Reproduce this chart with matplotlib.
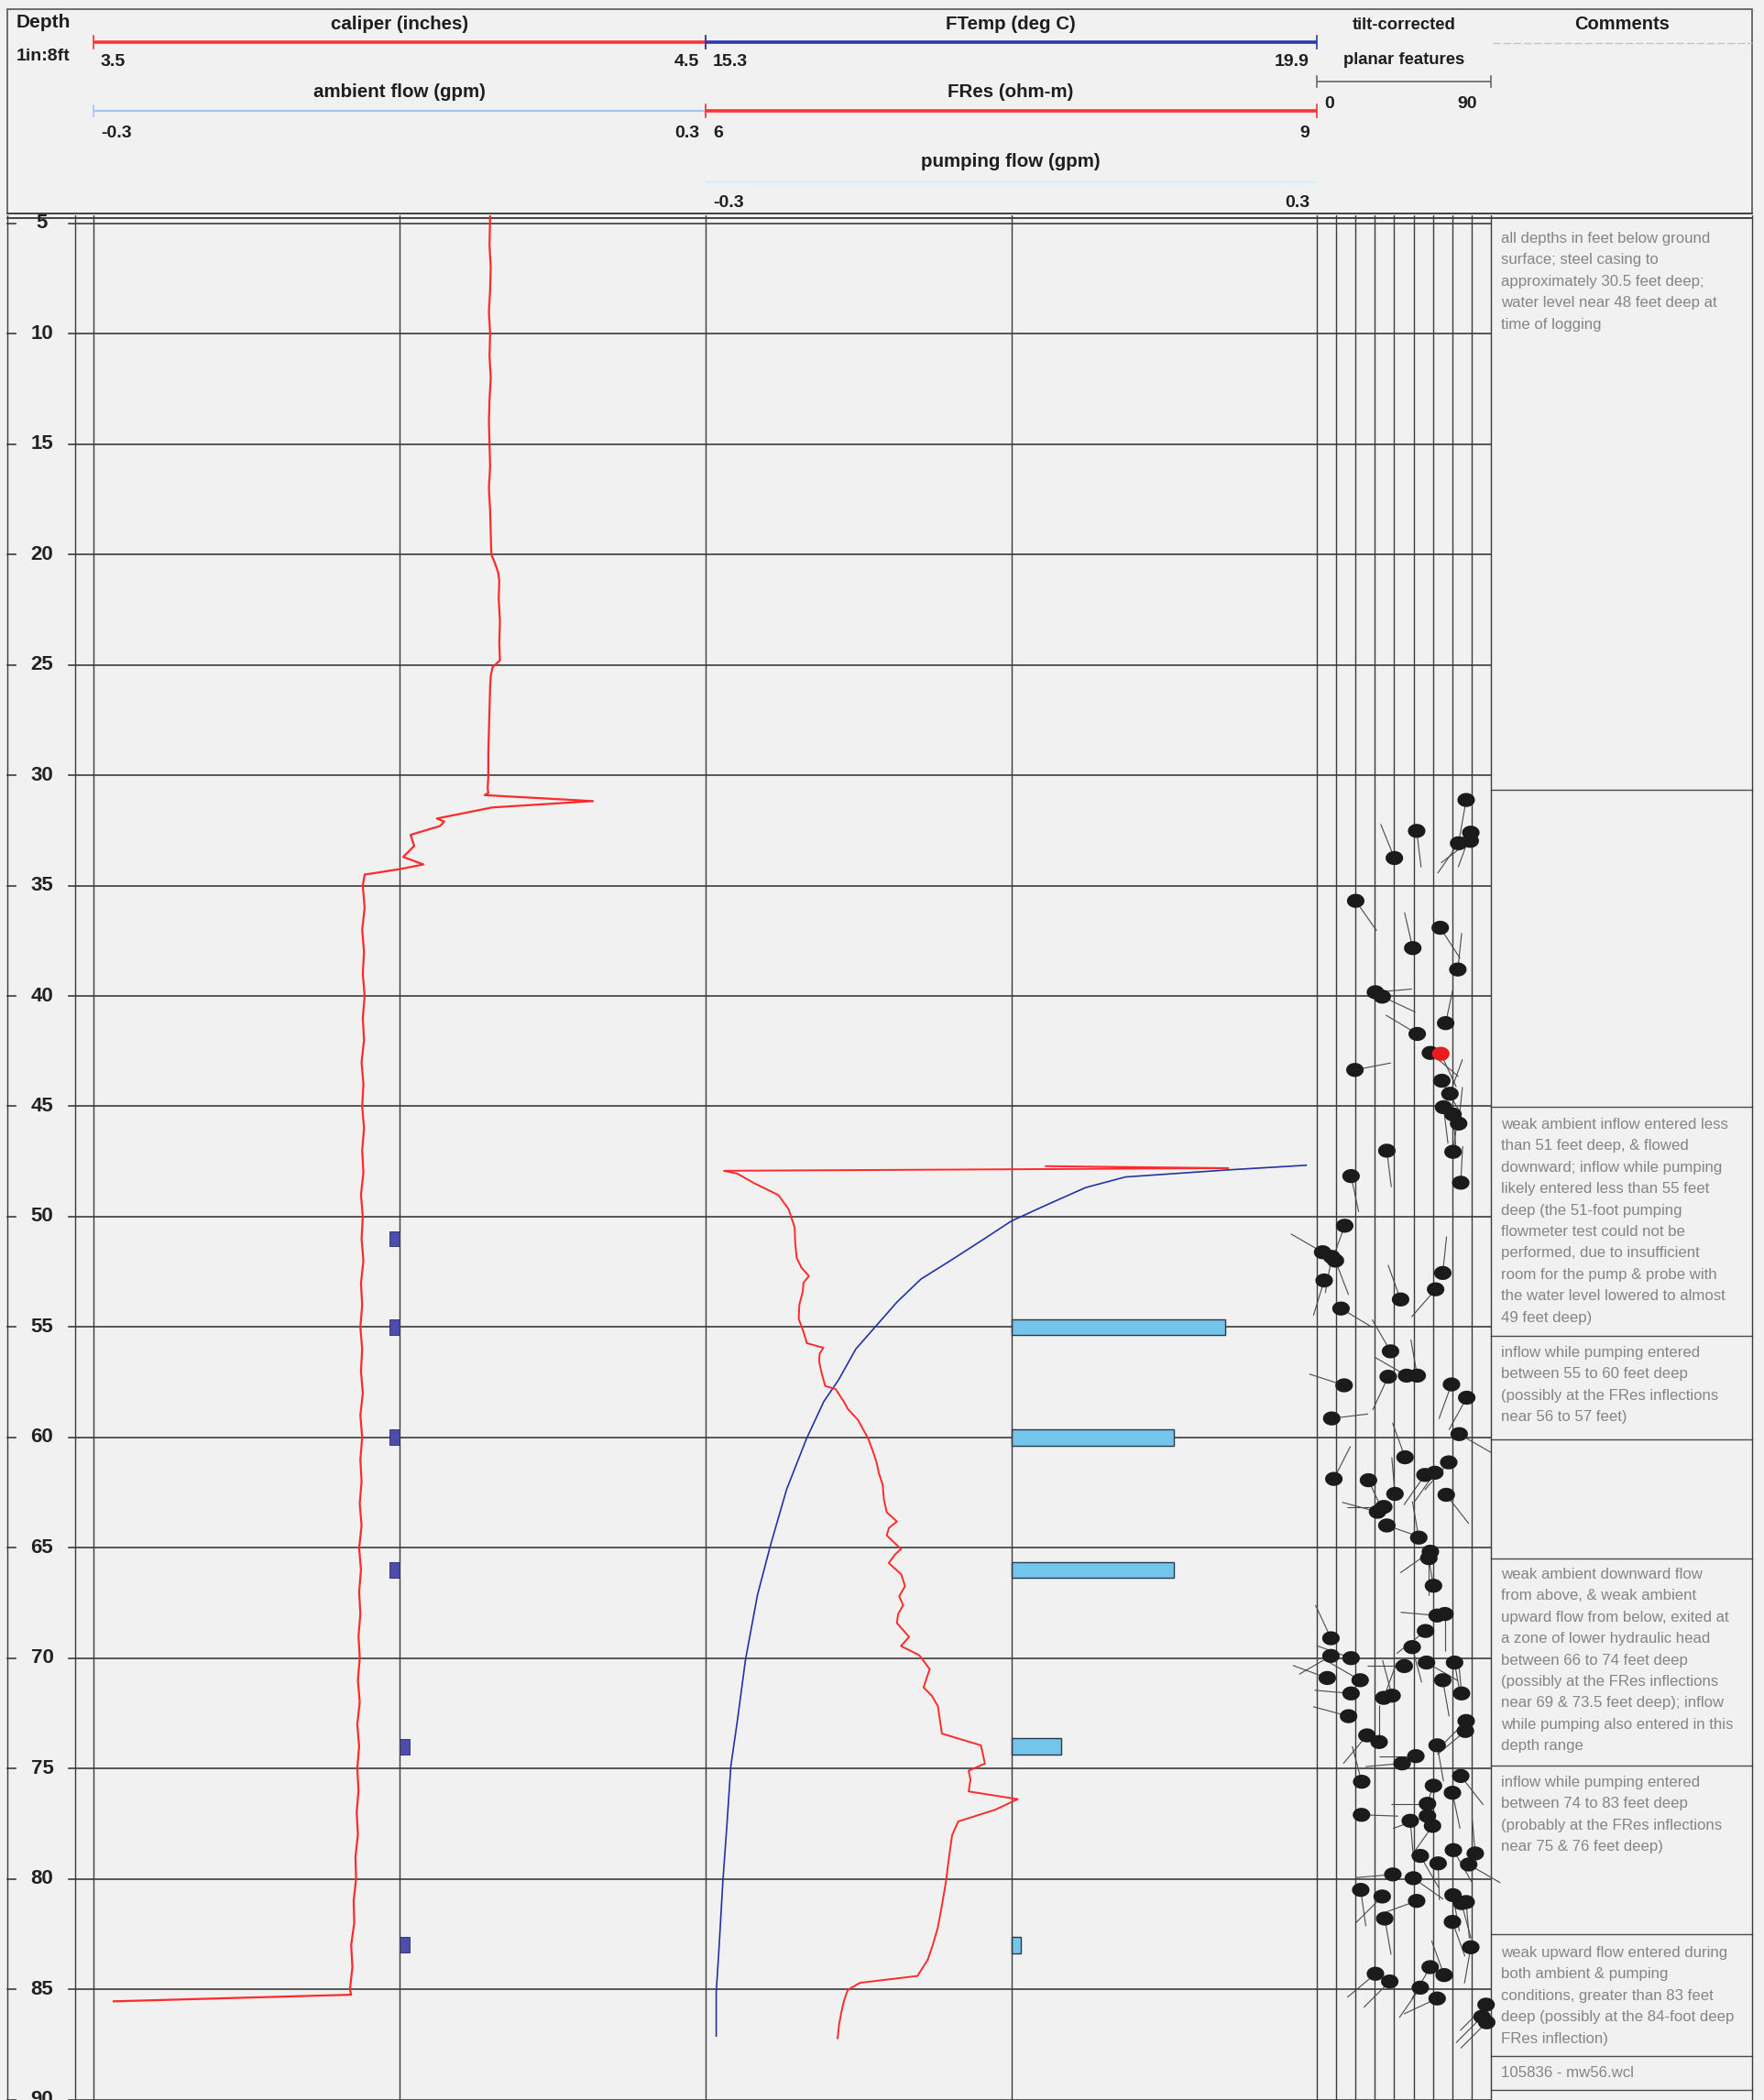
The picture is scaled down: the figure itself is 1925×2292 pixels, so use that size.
import numpy as np
import matplotlib
matplotlib.use("Agg")
import matplotlib.pyplot as plt
from matplotlib.path import Path
from matplotlib.collections import LineCollection

# ---------------- data ----------------
depth_ticks = [5, 10, 15, 20, 25, 30, 35, 40, 45, 50, 55, 60, 65, 70, 75, 80, 85, 90]

cal_depth = [4.63, 6, 7, 8, 9, 10, 11, 12, 13, 14, 15, 16, 17, 18, 19, 20, 20.4, 20.8, 21.2, 22, 23, 24,
             24.8, 25.1, 25.5, 26, 27, 28, 29, 30, 30.6, 30.8, 30.9, 31.17, 31.46, 31.96, 32.1, 32.3, 32.7,
             33.2, 33.7, 34.04, 34.25, 34.5,
             35, 36, 37, 38, 39, 40, 41, 42, 43, 44, 45, 46, 47, 48, 49, 50, 51, 52, 53, 54, 55, 56, 57,
             58, 59, 60, 61, 62, 63, 64, 65, 66, 67, 68, 69, 70, 71, 72, 73, 74, 75, 76, 77, 78, 79, 80,
             81, 82, 83, 84, 85, 85.25, 85.55]
cal_in = [4.148, 4.147, 4.149, 4.148, 4.146, 4.148, 4.147, 4.149, 4.147, 4.146, 4.147, 4.148, 4.146, 4.148,
          4.149, 4.150, 4.156, 4.161, 4.163, 4.162, 4.164, 4.163, 4.164, 4.152, 4.149, 4.148, 4.147, 4.146,
          4.145, 4.145, 4.144, 4.145, 4.139, 4.316, 4.151, 4.061, 4.073, 4.066, 4.018, 4.024, 4.006, 4.039,
          4.001, 3.943,
          3.940, 3.943, 3.939, 3.942, 3.940, 3.943, 3.940, 3.942, 3.938, 3.941, 3.939, 3.942, 3.939, 3.941,
          3.937, 3.940, 3.938, 3.941, 3.937, 3.939, 3.936, 3.939, 3.937, 3.940, 3.936, 3.939, 3.936, 3.938,
          3.935, 3.938, 3.934, 3.937, 3.934, 3.936, 3.933, 3.935, 3.932, 3.935, 3.931, 3.934, 3.931, 3.933,
          3.930, 3.932, 3.928, 3.929, 3.925, 3.926, 3.921, 3.923, 3.919, 3.921, 3.533]

temp_depth = [47.67, 47.88, 48.2, 48.68, 49.51, 50.2, 51.03, 52.0, 52.83, 53.87, 54.9, 56.0, 57.4, 58.37,
              60.05, 62.35, 64.85, 67.15, 70.08, 72.8, 74.89, 77.6, 80.11, 83.25, 85.13, 87.12]
temp_c = [19.82, 19.23, 18.46, 18.16, 17.85, 17.6, 17.39, 17.14, 16.92, 16.74, 16.59, 16.43, 16.30, 16.19,
          16.06, 15.91, 15.79, 15.69, 15.60, 15.54, 15.49, 15.46, 15.43, 15.40, 15.38, 15.38]

res_depth = [47.71, 47.80, 47.92, 48.05, 48.47, 49.02, 49.65, 50.48, 51.2, 51.86, 52.3, 52.69, 53.0, 53.38,
             54.0, 54.63, 55.2, 55.73, 55.94, 56.2, 56.56, 57.1, 57.67, 57.81, 58.37, 58.71, 59.21, 60.05,
             60.6, 61.09, 61.6, 62.14, 62.8, 63.39, 63.81, 64.1, 64.44, 65.06, 65.3, 65.69, 66.2, 66.74,
             67.2, 67.6, 68.0, 68.41, 69.04, 69.45, 69.87, 70.5, 70.9, 71.33, 71.7, 72.17, 72.8, 73.42,
             73.95, 74.3, 74.78, 75.1, 75.5, 76.04, 76.39, 76.87, 77.4, 78.02, 79.0, 80.11, 81.2, 82.2,
             83.0, 83.67, 84.4, 84.71, 85.03, 85.5, 85.97, 86.6, 87.22]
res_ohm = [7.67, 8.566, 6.09, 6.156, 6.236, 6.357, 6.407, 6.437, 6.44, 6.447, 6.47, 6.507, 6.48, 6.477,
           6.46, 6.457, 6.48, 6.497, 6.578, 6.56, 6.557, 6.57, 6.587, 6.638, 6.678, 6.698, 6.748, 6.798,
           6.82, 6.838, 6.85, 6.869, 6.875, 6.889, 6.939, 6.90, 6.889, 6.959, 6.93, 6.899, 6.96, 6.979,
           6.95, 6.97, 6.945, 6.939, 6.999, 6.959, 7.049, 7.10, 7.085, 7.07, 7.11, 7.14, 7.15, 7.16,
           7.351, 7.36, 7.371, 7.291, 7.30, 7.291, 7.532, 7.421, 7.24, 7.21, 7.195, 7.18, 7.16, 7.14,
           7.115, 7.09, 7.04, 6.758, 6.698, 6.68, 6.668, 6.655, 6.648]

amb_depth = [51, 55, 60, 66, 74, 83]
amb_gpm = [-0.01, -0.01, -0.01, -0.01, 0.01, 0.01]

pump_depth = [55, 60, 66, 74, 83]
pump_gpm = [0.21, 0.16, 0.16, 0.049, 0.0095]

tad_depth = [31.12, 32.6, 33.08, 32.97, 32.52, 33.75, 35.69, 36.91, 37.83, 38.8, 39.83, 40.03, 41.23, 41.72,
             42.58, 43.35, 43.84, 44.43, 45.04, 45.37, 45.78, 47.06, 48.46, 47.01, 48.16, 50.41, 51.61,
             51.82, 51.99, 52.89, 54.16, 53.75, 52.55, 53.29,
             56.1, 57.25, 57.2, 57.2, 57.64, 57.6, 58.2, 59.14, 59.85, 60.9, 61.88, 61.94, 62.56, 61.13,
             61.7, 61.6, 62.6, 63.15, 63.37, 63.99, 64.54, 65.18, 65.47, 66.72, 68.07, 68.0, 68.77, 69.5,
             70.36, 70.2, 70.2, 71.0, 71.6, 69.1, 69.9, 70.0, 70.9, 71.0, 71.6, 72.63, 71.8, 71.7, 73.8,
             73.5, 75.6, 74.77, 74.44, 73.95, 72.85, 73.3, 75.34, 75.78, 76.1, 76.6, 77.15, 77.6, 77.1,
             77.37, 78.96, 79.3, 78.7, 78.85, 79.35, 79.8, 79.97, 80.5, 80.8, 81.0, 81.8, 80.74, 81.1,
             81.05, 81.95, 83.1, 84.3, 84.65, 84.0, 84.36, 84.93, 85.42, 85.7, 86.25, 86.5]
tad_dip = [77.2, 79.6, 73.3, 79.3, 51.6, 40.1, 20.1, 63.8, 49.6, 72.9, 30.3, 33.8, 66.6, 51.9,
           58.7, 19.7, 64.6, 68.8, 65.5, 70.4, 73.3, 70.4, 74.4, 36.2, 17.7, 14.4, 3.0,
           7.7, 9.6, 3.8, 12.5, 43.3, 65.1, 61.4,
           38.1, 36.9, 46.4, 51.9, 14.1, 69.6, 77.5, 7.7, 73.6, 45.6, 8.8, 26.7, 40.4, 68.2,
           55.9, 61.0, 66.9, 34.6, 31.4, 36.2, 52.7, 58.7, 57.9, 60.3, 62.2, 66.2, 56.2, 49.3,
           45.2, 56.7, 71.2, 65.1, 74.8, 7.3, 7.3, 17.7, 5.4, 22.4, 17.7, 16.4, 34.6, 38.9, 32.2,
           25.9, 23.2, 44.1, 51.2, 62.2, 77.2, 76.8, 74.4, 60.3, 70.1, 57.2, 57.2, 59.8, 23.1,
           48.3, 53.5, 62.7, 70.6, 81.9, 78.5, 39.3, 49.9, 22.7, 33.8, 51.6, 35.1, 70.4, 74.8,
           77.2, 70.1, 79.6, 30.3, 37.7, 58.6, 65.8, 53.5, 62.2, 87.5, 85.4, 87.8]
tad_azimuth = [190, 200, 215, 233, 173, 338, 145, 147, 347, 6, 85, 115, 12, 301,
               130, 79, 150, 20, 173, 175, 6, 8, 3, 173, 168, 200, 300,
               190, 159, 197, 121, 340, 6, 221,
               330, 205, 300, 350, 288, 200, 209, 83, 120, 340, 27, 155, 355, 221,
               215, 215, 142, 270, 285, 109, 350, 235, 180, 350, 275, 180, 232, 165,
               270, 120, 170, 170, 355, 335, 240, 290, 290, 300, 275, 285, 20, 345, 0,
               220, 345, 265, 270, 170, 225, 230, 142, 200, 168, 270, 250, 215, 92,
               175, 150, 178, 150, 355, 120, 265, 125, 172, 225, 250, 170, 170, 165,
               175, 160, 190, 230, 225, 210, 340, 215, 245, 225, 225, 225]

red_tad_depth = [42.62]
red_tad_dip = [64.1]
red_tad_azimuth = [155]

comment_tops = [262, 1229, 1478, 1720, 1947, 2133, 2264]
comments = [
    "all depths in feet below ground\nsurface; steel casing to\napproximately 30.5 feet deep;\n"
    "water level near 48 feet deep at\ntime of logging",
    "weak ambient inflow entered less\nthan 51 feet deep, & flowed\ndownward; inflow while pumping\n"
    "likely entered less than 55 feet\ndeep (the 51-foot pumping\nflowmeter test could not be\n"
    "performed, due to insufficient\nroom for the pump & probe with\nthe water level lowered to almost\n"
    "49 feet deep)",
    "inflow while pumping entered\nbetween 55 to 60 feet deep\n(possibly at the FRes inflections\n"
    "near 56 to 57 feet)",
    "weak ambient downward flow\nfrom above, & weak ambient\nupward flow from below, exited at\n"
    "a zone of lower hydraulic head\nbetween 66 to 74 feet deep\n(possibly at the FRes inflections\n"
    "near 69 & 73.5 feet deep); inflow\nwhile pumping also entered in this\ndepth range",
    "inflow while pumping entered\nbetween 74 to 83 feet deep\n(probably at the FRes inflections\n"
    "near 75 & 76 feet deep)",
    "weak upward flow entered during\nboth ambient & pumping\nconditions, greater than 83 feet\n"
    "deep (possibly at the 84-foot deep\nFRes inflection)",
    "105836 - mw56.wcl",
]
comment_box_lines = [862, 1208, 1458, 1571, 1701, 1927, 2111, 2244, 2281]

# ---------------- layout ----------------
W, H, DPI = 1925, 2292, 100
fig = plt.figure(figsize=(W / DPI, H / DPI), dpi=DPI)
BG = "#f1f1f1"
fig.patch.set_facecolor(BG)

TOP = 235
D_TOP, D_BOT = 4.63, 90.02
NARROW = ["Liberation Sans Narrow", "Liberation Sans", "DejaVu Sans"]
ARIAL = ["Liberation Sans", "DejaVu Sans"]
GRID = "#3c3c3c"


def track_ax(x0, x1, xlim, z):
    ax = fig.add_axes([x0 / W, 0, (x1 - x0) / W, 1 - TOP / H])
    ax.set_xlim(*xlim)
    ax.set_ylim(D_BOT, D_TOP)
    ax.axis("off")
    ax.patch.set_alpha(0)
    ax.set_zorder(z)
    return ax


# overlay in pixel coords
ov = fig.add_axes([0, 0, 1, 1])
ov.set_xlim(0, W)
ov.set_ylim(H, 0)
ov.axis("off")
ov.patch.set_alpha(0)
ov.set_zorder(1)

# grid axes: x in pixels, y in depth
gax = track_ax(0, W, (0, W), 1)
for d in depth_ticks:
    gax.plot([75, 1627], [d, d], color=GRID, lw=1.2, zorder=1)
    gax.plot([8, 17], [d, d], color=GRID, lw=1.2)
    gax.text(46, d, str(d), ha="center", va="center", fontsize=16, fontweight="bold",
             family=NARROW, color="#222222")
for x in (8, 82, 102, 770, 1437, 1627, 1912):
    gax.axvline(x, color=GRID, lw=1.0)

# ---- caliper / ambient flow track
ax_cal = track_ax(102, 770, (3.5, 4.5), 4)
ax_cal.plot(cal_in, cal_depth, color="#ff2a2a", lw=1.6, solid_joinstyle="round")
ax_amb = track_ax(102, 770, (-0.3, 0.3), 3)
ax_amb.axvline(0, color=GRID, lw=1.0)
ax_amb.barh(amb_depth, amb_gpm, height=0.7, color="#4d4dab", edgecolor="#26266e", lw=0.6)

# ---- FTemp / FRes / pumping track
ax_pump = track_ax(770, 1437, (-0.3, 0.3), 3)
ax_pump.axvline(0, color=GRID, lw=1.0)
ax_pump.barh(pump_depth, pump_gpm, height=0.72, color="#74c5ec", edgecolor="#2c3b4c", lw=1.0)
ax_temp = track_ax(770, 1437, (15.3, 19.9), 4)
ax_temp.plot(temp_c, temp_depth, color="#2233a6", lw=1.2)
ax_res = track_ax(770, 1437, (6, 9), 5)
ax_res.plot(res_ohm, res_depth, color="#ff2a2a", lw=1.4)

# ---- tadpole track
ax_tad = track_ax(1437, 1627, (0, 90), 6)
for deg in range(10, 90, 10):
    ax_tad.axvline(deg, color=GRID, lw=1.0)

theta = np.linspace(0, 2 * np.pi, 41)
ell = Path(np.column_stack([np.cos(theta), 0.8 * np.sin(theta)]), closed=True)


def tadpoles(dips, depths, azs, color):
    pts = ax_tad.transData.transform(np.column_stack([dips, depths]))
    az = np.radians(azs)
    L = 40.0
    ends = pts + L * np.column_stack([np.sin(az), np.cos(az)])
    ends = ax_tad.transData.inverted().transform(ends)
    segs = [[(a, b), (c, e)] for a, b, (c, e) in zip(dips, depths, ends)]
    lc = LineCollection(segs, colors="#4a4a4a", linewidths=0.8, zorder=2, clip_on=False)
    ax_tad.add_collection(lc)
    ax_tad.scatter(dips, depths, s=190, marker=ell, color=color, edgecolors="none",
                   zorder=3, clip_on=False)


tadpoles(tad_dip, tad_depth, tad_azimuth, "#1b1b1b")
tadpoles(red_tad_dip, red_tad_depth, red_tad_azimuth, "#e81c1c")

# ---- comments column
for y in comment_box_lines:
    ov.plot([1627, 1912], [y, y], color="#4a4a4a", lw=1.0)
for y, txt in zip(comment_tops, comments):
    ov.text(1638, y - 9, txt, ha="left", va="top", fontsize=12.1, family=ARIAL,
            color="#858585", linespacing=1.7)

# ---------------- header ----------------
ov.add_patch(plt.Rectangle((8, 10), 1904, 223, fill=False, edgecolor="#555555", lw=1.2))
ov.plot([8, 1912], [233, 233], color="#444444", lw=1.4)
ov.plot([8, 1912], [238, 238], color="#444444", lw=1.4)


def htext(x, y, s, ha="center", size=14.8):
    ov.text(x, y, s, ha=ha, va="center", fontsize=size, fontweight="bold", family=NARROW,
            color="#1e1e1e")


def scale_line(x0, x1, y, color, lw=2.6, cap=7, caps=True):
    ov.plot([x0, x1], [y, y], color=color, lw=lw, solid_capstyle="butt")
    if caps:
        for x in (x0, x1):
            ov.plot([x, x], [y - cap, y + cap], color=color, lw=1.2)


NUM = 14
htext(18, 25, "Depth", ha="left", size=15)
htext(18, 61, "1in:8ft", ha="left", size=14)

htext(436, 26, "caliper (inches)")
scale_line(102, 770, 46, "#ff3333")
htext(110, 68, "3.5", ha="left", size=NUM)
htext(763, 68, "4.5", ha="right", size=NUM)

htext(436, 101, "ambient flow (gpm)")
scale_line(102, 770, 121, "#a9c4ec", lw=1.6, cap=6)
htext(110, 145, "-0.3", ha="left", size=NUM)
htext(763, 145, "0.3", ha="right", size=NUM)

htext(1103, 26, "FTemp (deg C)")
scale_line(770, 1437, 46, "#2a3aa8")
htext(778, 68, "15.3", ha="left", size=NUM)
htext(1429, 68, "19.9", ha="right", size=NUM)

htext(1103, 101, "FRes (ohm-m)")
scale_line(770, 1437, 121, "#ff3333")
htext(778, 145, "6", ha="left", size=NUM)
htext(1429, 145, "9", ha="right", size=NUM)

htext(1103, 177, "pumping flow (gpm)")
scale_line(770, 1437, 199, "#d3f0f8", lw=1.6, caps=False)
htext(778, 222, "-0.3", ha="left", size=NUM)
htext(1429, 222, "0.3", ha="right", size=NUM)

htext(1532, 28, "tilt-corrected", size=13.3)
htext(1532, 65, "planar features", size=13.3)
scale_line(1437, 1627, 89, "#666666", lw=1.2, cap=6)
htext(1445, 114, "0", ha="left", size=NUM)
htext(1612, 114, "90", ha="right", size=NUM)

htext(1770, 26, "Comments", size=14.5)
ov.plot([1629, 1912], [47, 47], color="#c4c4c4", lw=1.0, ls=(0, (6, 2)))

fig.savefig("out.png", dpi=DPI, facecolor=BG)
